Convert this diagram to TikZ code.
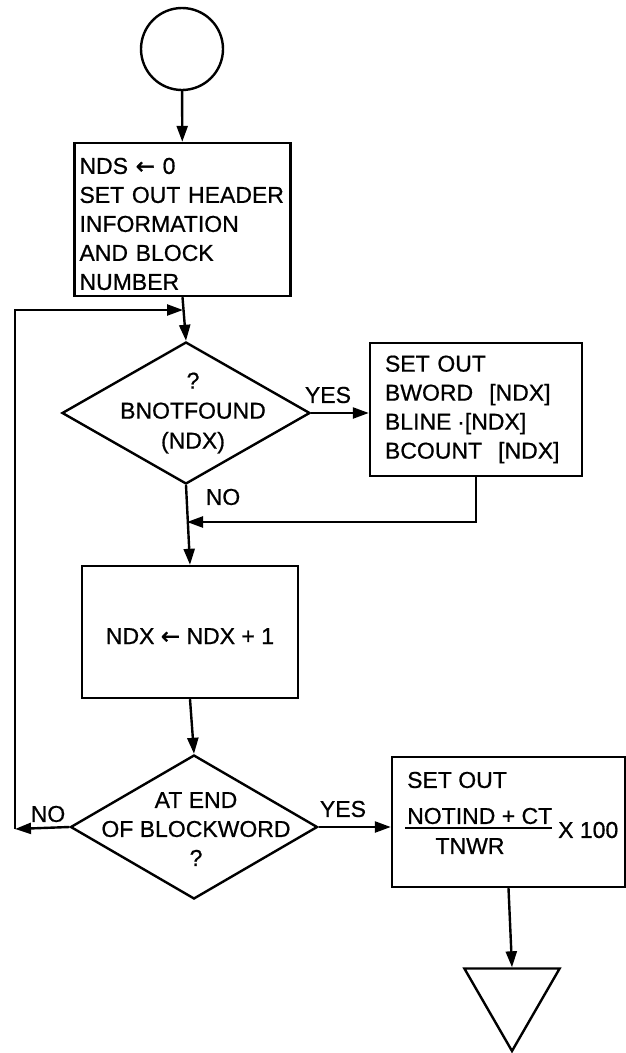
\documentclass[tikz,border=0pt]{standalone}
\usepackage{fontspec}
\setmainfont[FakeBold=0.7]{Liberation Sans}
\newfontfamily\symfont[FakeBold=1.5]{DejaVu Sans}
\usetikzlibrary{shapes.geometric,arrows.meta}
\newcommand{\larr}{{\symfont ←}}
\begin{document}
\begin{tikzpicture}[x=1pt,y=-1pt,line width=2.4pt,
  every node/.style={font=\fontsize{23}{29}\selectfont},
  arr/.style={-{Triangle[length=16pt,width=11pt]}},
  box/.style={draw,rectangle,inner sep=0pt,line width=2.4pt},
  dia/.style={draw,diamond,inner sep=0pt,line width=2.4pt},
  txt/.style={inner sep=0pt},
  lbl/.style={inner sep=0pt}]
\useasboundingbox (0,0) rectangle (626,1053);
\fill[white] (0,0) rectangle (626,1053);

% start circle
\node[draw,circle,minimum size=82pt,inner sep=0pt] (c) at (182,49) {};

% box 1
\node[box,minimum width=215pt,minimum height=153pt,text width=206pt,align=left,inner xsep=5pt] (b1) at (182.5,219.5)
  {\rule{0pt}{25pt}NDS \larr\ 0\\SET OUT HEADER\\INFORMATION\\AND BLOCK\\NUMBER};

% decision 1
\node[dia,minimum width=248pt,minimum height=142pt] (d1) at (186,413) {};
\node[txt,align=center,font=\fontsize{23}{30}\selectfont] (d1t) at (193,413) {?\\BNOTFOUND\\(NDX)};

% box 2
\node[box,minimum width=212pt,minimum height=133pt,text width=182pt,align=left,inner xsep=15pt] (b2) at (476,409.5)
  {SET OUT\\BWORD\hspace{0.7em}[NDX]\\BLINE\hspace{0.25em}·[NDX]\\BCOUNT\hspace{0.7em}[NDX]};

% box 3
\node[box,minimum width=216pt,minimum height=132pt] (b3) at (190,632) {\rule{0pt}{24pt}NDX \larr\ NDX + 1};

% decision 2
\node[dia,minimum width=247pt,minimum height=144pt] (d2) at (194,827) {};
\node[txt,align=center] (d2t) at (196,829) {AT END\\OF BLOCKWORD\\?};

% box 4
\node[box,minimum width=233pt,minimum height=130pt] (b4) at (508.5,822) {};
\node[txt,anchor=west] (b4a) at (406,780) {SET OUT};
\node[txt,anchor=west] (b4n) at (406,816) {NOTIND + CT};
\node[txt] (b4d) at (470,846) {TNWR};
\node[txt,anchor=west] (b4x) at (557,830) {X 100};
\draw[line width=2pt] (405,828) -- (552,828);

% end triangle
\node[draw,regular polygon,regular polygon sides=3,shape border rotate=180,minimum size=110pt,inner sep=0pt] (tri) at (512,996) {};

% helper coordinates
\coordinate (j0) at (183,310);
\coordinate (j1) at (187,522);
\coordinate (lp) at (15,829);

% connectors
\draw[arr] (c) -- (b1);
\draw[arr] (b1.south) -- (d1.north);
\draw[arr] (d1.east) -- (d1.east -| b2.west);
\draw[arr] (b2.south) |- (j1);
\draw[arr] (d1.south) -- (b3.north);
\draw[arr] (b3.south) -- (d2.north);
\draw[arr] (d2.west) -- (lp);
\draw[arr] (lp) |- (j0);
\draw[arr] (d2.east) -- (d2.east -| b4.west);
\draw[arr] (b4.south) -- (tri.north);

% labels
\node[lbl] (yes1) at (328,395) {YES};
\node[lbl] (no1) at (223,497) {NO};
\node[lbl] (yes2) at (343,809) {YES};
\node[lbl] (no2) at (48,814) {NO};
\end{tikzpicture}
\end{document}
